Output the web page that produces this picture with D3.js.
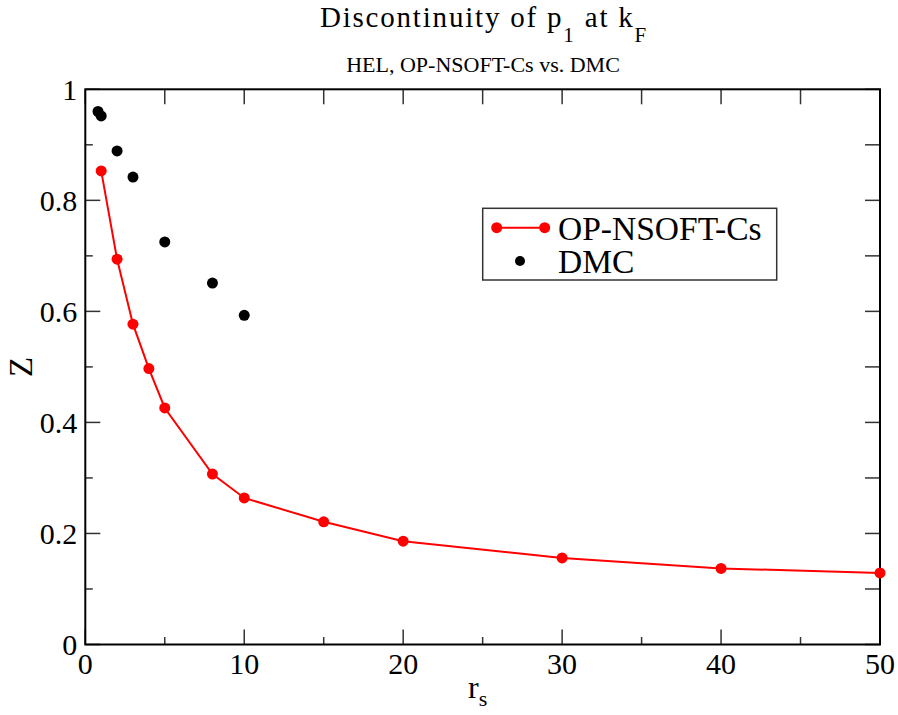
<!DOCTYPE html>
<html>
<head>
<meta charset="utf-8">
<script src="https://cdn.jsdelivr.net/npm/d3@7"></script>
<style>
  body{margin:0;background:#fff}
</style>
</head>
<body>
<svg id="chart"></svg>
<script>
// OP-NSOFT-Cs
const rsOp = [1, 2, 3, 4, 5, 8, 10, 15, 20, 30, 40, 50]
const zOp = [0.853, 0.694, 0.577, 0.497, 0.426, 0.307, 0.264, 0.221, 0.186, 0.156, 0.137, 0.129]
// DMC
const rsDmc = [0.8, 1, 2, 3, 5, 8, 10]
const zDmc = [0.960, 0.952, 0.889, 0.842, 0.725, 0.651, 0.593]

const xTicks = [0, 10, 20, 30, 40, 50]
const xMinor = [5, 15, 25, 35, 45]
const yTicks = [0, 0.2, 0.4, 0.6, 0.8, 1]
const yMinor = [0.1, 0.3, 0.5, 0.7, 0.9]

const width = 898, height = 715
const pLeft = 85.3, pRight = 880, pTop = 89.3, pBottom = 644.5

const svg = d3.select('#chart').attr('width', width).attr('height', height)
  .attr('font-family', '"Liberation Serif", "DejaVu Serif", "Times New Roman", Times, serif')

const x = d3.scaleLinear().domain([0, 50]).range([pLeft, pRight])
const y = d3.scaleLinear().domain([0, 1]).range([pBottom, pTop])

// ticks
const tickG = svg.append('g').attr('stroke', '#333').attr('stroke-width', 1.5)
xTicks.forEach(t => {
  tickG.append('line').attr('x1', x(t)).attr('x2', x(t)).attr('y1', pBottom).attr('y2', pBottom - 15)
})
xMinor.forEach(t => {
  tickG.append('line').attr('x1', x(t)).attr('x2', x(t)).attr('y1', pBottom).attr('y2', pBottom - 7.5)
})
xTicks.concat(xMinor).forEach(t => {
  tickG.append('line').attr('x1', x(t)).attr('x2', x(t)).attr('y1', pTop).attr('y2', pTop + 15)
})
yTicks.forEach(t => {
  tickG.append('line').attr('y1', y(t)).attr('y2', y(t)).attr('x1', pLeft).attr('x2', pLeft + 15)
})
yMinor.forEach(t => {
  tickG.append('line').attr('y1', y(t)).attr('y2', y(t)).attr('x1', pLeft).attr('x2', pLeft + 7.5)
})
yTicks.concat(yMinor).forEach(t => {
  tickG.append('line').attr('y1', y(t)).attr('y2', y(t)).attr('x1', pRight).attr('x2', pRight - 15)
})

// frame
svg.append('rect')
  .attr('x', pLeft).attr('y', pTop)
  .attr('width', pRight - pLeft).attr('height', pBottom - pTop)
  .attr('fill', 'none').attr('stroke', '#000').attr('stroke-width', 2)

// tick labels
svg.append('g').selectAll('text').data(xTicks).enter().append('text')
  .attr('x', d => x(d)).attr('y', 674)
  .attr('text-anchor', 'middle').attr('font-size', 30)
  .text(d => d)
svg.append('g').selectAll('text').data(yTicks).enter().append('text')
  .attr('x', pLeft - 8).attr('y', d => y(d)).attr('dy', '0.34em')
  .attr('text-anchor', 'end').attr('font-size', 30)
  .text(d => d)

// axis titles
const xt = svg.append('text').attr('x', x(25) - 5).attr('y', 698)
  .attr('text-anchor', 'middle').attr('font-size', 32)
xt.append('tspan').text('r')
xt.append('tspan').attr('dy', 8).attr('font-size', 22).text('s')

svg.append('text')
  .attr('transform', `translate(32,${(pTop + pBottom) / 2}) rotate(-90)`)
  .attr('text-anchor', 'middle').attr('font-size', 33)
  .text('Z')

// title
const title = svg.append('text').attr('x', 484).attr('y', 27)
  .attr('text-anchor', 'middle').attr('font-size', 29).attr('letter-spacing', 1.8)
title.append('tspan').text('Discontinuity of p')
title.append('tspan').attr('dy', 15).attr('font-size', 21).text('1')
title.append('tspan').attr('dy', -15).text(' at k')
title.append('tspan').attr('dy', 15).attr('font-size', 21).text('F')

svg.append('text').attr('x', 483).attr('y', 72)
  .attr('text-anchor', 'middle').attr('font-size', 22)
  .text('HEL, OP-NSOFT-Cs vs. DMC')

// series
const line = d3.line().x((d, i) => x(rsOp[i])).y(d => y(d))
svg.append('path').datum(zOp)
  .attr('d', line)
  .attr('fill', 'none').attr('stroke', '#ff0000').attr('stroke-width', 2)

svg.append('g').selectAll('circle').data(zOp).enter().append('circle')
  .attr('cx', (d, i) => x(rsOp[i])).attr('cy', d => y(d))
  .attr('r', 5.5).attr('fill', '#ff0000')

svg.append('g').selectAll('circle').data(zDmc).enter().append('circle')
  .attr('cx', (d, i) => x(rsDmc[i])).attr('cy', d => y(d))
  .attr('r', 5.5).attr('fill', '#000')

// legend
const lg = svg.append('g')
lg.append('rect')
  .attr('x', 482.7).attr('y', 208.3).attr('width', 294).attr('height', 71.7)
  .attr('fill', '#fff').attr('stroke', '#333').attr('stroke-width', 1.5)
lg.append('line')
  .attr('x1', 496.7).attr('x2', 544.7).attr('y1', 227.7).attr('y2', 227.7)
  .attr('stroke', '#ff0000').attr('stroke-width', 2)
lg.selectAll('.lm').data([496.7, 544.7]).enter().append('circle')
  .attr('cx', d => d).attr('cy', 227.7).attr('r', 5.5).attr('fill', '#ff0000')
lg.append('circle').attr('cx', 520).attr('cy', 261).attr('r', 5).attr('fill', '#000')
lg.append('text').attr('x', 558).attr('y', 240).attr('font-size', 33.5).text('OP-NSOFT-Cs')
lg.append('text').attr('x', 558).attr('y', 272.5).attr('font-size', 33.5).text('DMC')
</script>
</body>
</html>
